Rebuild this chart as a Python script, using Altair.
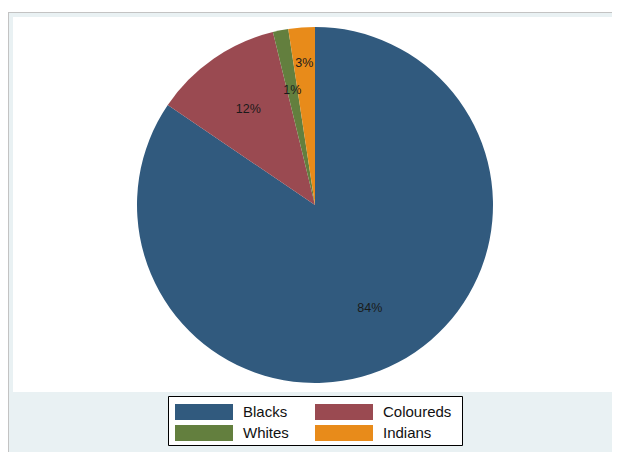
import altair as alt
import pandas as pd

# Data
groups = ["Blacks", "Coloureds", "Whites", "Indians"]
shares = [84.5, 11.7, 1.4, 2.4]
pct_labels = ["84%", "12%", "1%", "3%"]

# Styles
colors = ["#315A7E", "#9A4A51", "#637F3E", "#E88B1A"]
FONT = "Liberation Sans"

df = pd.DataFrame({
    "group": groups,
    "share": shares,
    "label": pct_labels,
    "order": list(range(len(groups))),
})

W, H = 604, 440
CX, CY, R = 307, 193, 178

one = pd.DataFrame({"k": [0]})

bg = alt.Chart(one).mark_rect(color="white").encode(
    x=alt.value(5), x2=alt.value(W), y=alt.value(5), y2=alt.value(380)
)
top_line = alt.Chart(one).mark_rule(color="#C3C3C3", strokeWidth=1).encode(
    x=alt.value(0), x2=alt.value(W), y=alt.value(0.5)
)
left_line = alt.Chart(one).mark_rule(color="#C3C3C3", strokeWidth=1).encode(
    x=alt.value(0.5), y=alt.value(0), y2=alt.value(H)
)

frame = alt.Chart(one).mark_rect(fill="white", stroke="black", strokeWidth=1).encode(
    x=alt.value(160.5), x2=alt.value(454.5), y=alt.value(384.5), y2=alt.value(433.5)
)

base = alt.Chart(df).encode(
    theta=alt.Theta("share:Q", stack=True),
    order=alt.Order("order:Q"),
    x=alt.value(CX),
    y=alt.value(CY),
)

arcs = base.mark_arc(outerRadius=R, strokeWidth=0).encode(
    color=alt.Color(
        "group:N",
        scale=alt.Scale(domain=groups, range=colors),
        legend=alt.Legend(
            title=None,
            orient="none",
            direction="horizontal",
            legendX=167,
            legendY=392,
            columns=2,
            columnPadding=26,
            rowPadding=5,
            padding=0,
            symbolType="M-1,-0.2759H1V0.2759H-1Z",
            symbolSize=3364,
            symbolStrokeWidth=0,
            symbolOpacity=1,
            clipHeight=16,
            labelOffset=10,
            labelFont=FONT,
            labelFontSize=15,
            labelColor="#111111",
            labelLimit=300,
        ),
    )
)

inner_text = base.mark_text(radius=117, font=FONT, fontSize=12.5, color="#1a1a1a").encode(
    text=alt.condition(alt.datum.group != "Indians", "label:N", alt.value(""))
)
outer_text = base.mark_text(radius=142, font=FONT, fontSize=12.5, color="#1a1a1a").encode(
    text=alt.condition(alt.datum.group == "Indians", "label:N", alt.value(""))
)

chart = alt.layer(bg, top_line, left_line, frame, arcs, inner_text, outer_text).properties(
    width=W,
    height=H,
    padding={"left": 0, "top": 4, "right": 0, "bottom": 0},
    background="white",
    autosize=alt.AutoSizeParams(type="none"),
).configure_view(
    fill="#E9F1F3", stroke=None
)

chart.save("out.html", embed_options={"renderer": "svg", "actions": False})
